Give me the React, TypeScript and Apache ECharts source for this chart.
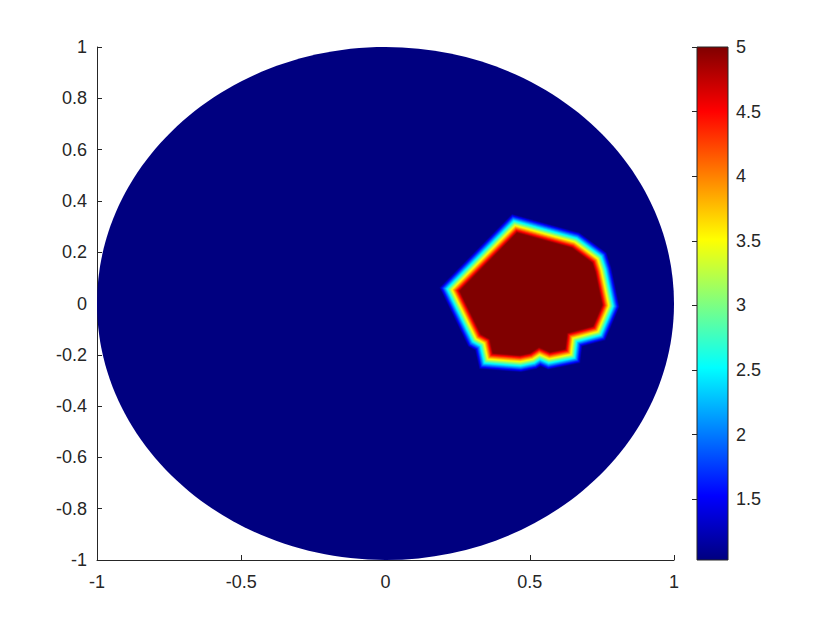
import React, { useEffect, useRef } from "react";
import * as echarts from "echarts";

// ---- data ----
const xTicks = [-1, -0.5, 0, 0.5, 1];
const yTicks = [-1, -0.8, -0.6, -0.4, -0.2, 0, 0.2, 0.4, 0.6, 0.8, 1];
const colorbarTicks = [1.5, 2, 2.5, 3, 3.5, 4, 4.5, 5];

// unit disk domain (background conductivity)
const diskCenter = [0, 0];
const diskRadius = 1;
const backgroundValue = 1.03;

// inclusion (value 5) outline, data coordinates
const inclusionX = [0.456, 0.581, 0.646, 0.716, 0.726, 0.75, 0.719, 0.629, 0.622, 0.57, 0.532, 0.501, 0.466, 0.373, 0.362, 0.331, 0.258];
const inclusionY = [0.275, 0.236, 0.216, 0.158, 0.123, -0.006, -0.088, -0.115, -0.177, -0.189, -0.17, -0.193, -0.201, -0.193, -0.138, -0.119, 0.049];
const inclusionValue = 5;

const vMin = backgroundValue;
const vMax = inclusionValue;

// MATLAB "jet" colormap control points
const JET: [number, number[]][] = [
  [0, [0, 0, 0.5]],
  [0.125, [0, 0, 1]],
  [0.375, [0, 1, 1]],
  [0.625, [1, 1, 0]],
  [0.875, [1, 0, 0]],
  [1, [0.5, 0, 0]],
];
function jet(t: number): string {
  t = Math.max(0, Math.min(1, t));
  for (let i = 1; i < JET.length; i++) {
    const [t1, c1] = JET[i];
    const [t0, c0] = JET[i - 1];
    if (t <= t1) {
      const f = (t - t0) / (t1 - t0);
      const c = c0.map((v, j) => Math.round(255 * (v + (c1[j] - v) * f)));
      return `rgb(${c[0]},${c[1]},${c[2]})`;
    }
  }
  return "rgb(128,0,0)";
}
const norm = (v: number) => (v - vMin) / (vMax - vMin);

const TEXT = "#262626";
const FONT = "'Liberation Sans', Arial, Helvetica, sans-serif";
const FONT_SIZE = 18;
const BAND_PX = 17;

export default function App() {
  const ref = useRef<HTMLDivElement>(null);
  useEffect(() => {
    if (!ref.current) return;
    const chart = echarts.init(ref.current, undefined, { renderer: "svg" });
    const fmt = (v: number) => String(Math.round(v * 10) / 10);
    chart.setOption({
      animation: false,
      backgroundColor: "#ffffff",
      grid: [
        { left: 97, top: 47, width: 577, height: 513 },
        { left: 697, top: 47, width: 31, height: 513 },
      ],
      xAxis: [
        {
          gridIndex: 0,
          type: "value",
          min: xTicks[0],
          max: xTicks[xTicks.length - 1],
          interval: 0.5,
          axisLine: { show: true, onZero: false, lineStyle: { color: TEXT, width: 1 } },
          axisTick: { show: true, inside: true, length: 5, lineStyle: { color: TEXT } },
          splitLine: { show: false },
          axisLabel: { color: TEXT, fontSize: FONT_SIZE, fontFamily: FONT, margin: 13, formatter: fmt },
        },
        { gridIndex: 1, type: "value", min: 0, max: 1, show: false },
      ],
      yAxis: [
        {
          gridIndex: 0,
          type: "value",
          min: yTicks[0],
          max: yTicks[yTicks.length - 1],
          interval: 0.2,
          axisLine: { show: true, onZero: false, lineStyle: { color: TEXT, width: 1 } },
          axisTick: { show: true, inside: true, length: 5, lineStyle: { color: TEXT } },
          splitLine: { show: false },
          axisLabel: { color: TEXT, fontSize: FONT_SIZE, fontFamily: FONT, margin: 10, formatter: fmt },
        },
        {
          gridIndex: 1,
          type: "value",
          position: "right",
          min: vMin,
          max: vMax,
          axisLine: { show: false },
          splitLine: { show: false },
          axisTick: {
            show: true,
            inside: true,
            length: 5,
            lineStyle: { color: TEXT },
            customValues: colorbarTicks,
          },
          axisLabel: {
            color: TEXT,
            fontSize: FONT_SIZE,
            fontFamily: FONT,
            margin: 8,
            customValues: colorbarTicks,
            formatter: fmt,
          },
        },
      ],
      series: [
        {
          type: "custom",
          xAxisIndex: 0,
          yAxisIndex: 0,
          data: [[diskCenter[0], diskCenter[1], diskRadius]],
          encode: { x: 0, y: 1 },
          clip: false,
          renderItem: (params: any, api: any) => {
            const cx = api.value(0);
            const cy = api.value(1);
            const r = api.value(2);
            const c = api.coord([cx, cy]);
            const px = api.coord([cx + r, cy]);
            const py = api.coord([cx, cy + r]);
            return {
              type: "ellipse",
              shape: { cx: c[0], cy: c[1], rx: px[0] - c[0], ry: c[1] - py[1] },
              style: { fill: jet(norm(backgroundValue)), stroke: null },
            };
          },
        },
        {
          type: "custom",
          xAxisIndex: 0,
          yAxisIndex: 0,
          data: [[inclusionX[0], inclusionY[0], inclusionValue]],
          encode: { x: 0, y: 1 },
          clip: false,
          renderItem: (params: any, api: any) => {
            const pts = inclusionX.map((x, i) => api.coord([x, inclusionY[i]]));
            const val = api.value(2);
            const children: any[] = [];
            const N = 48;
            for (let k = 0; k < N; k++) {
              const v = vMin + ((val - vMin) * (k + 0.5)) / N;
              const d = (BAND_PX * (val - v)) / (val - vMin);
              children.push({
                type: "polygon",
                shape: { points: pts },
                style: {
                  fill: "none",
                  stroke: jet(norm(v)),
                  lineWidth: 2 * d + 0.6,
                  lineJoin: "miter",
                  miterLimit: 3,
                },
              });
            }
            children.push({
              type: "polygon",
              shape: { points: pts },
              style: { fill: jet(norm(val)), stroke: null },
            });
            return { type: "group", children };
          },
        },
        {
          type: "custom",
          xAxisIndex: 1,
          yAxisIndex: 1,
          data: [[0, vMin, vMax]],
          encode: { x: 0, y: 1 },
          clip: false,
          renderItem: (params: any, api: any) => {
            const lo = api.value(1);
            const hi = api.value(2);
            const p0 = api.coord([0, hi]);
            const p1 = api.coord([1, lo]);
            const stops = JET.map(([t]) => ({ offset: 1 - t, color: jet(t) })).reverse();
            return {
              type: "rect",
              shape: { x: p0[0], y: p0[1], width: p1[0] - p0[0], height: p1[1] - p0[1] },
              style: {
                fill: new echarts.graphic.LinearGradient(0, 0, 0, 1, stops),
                stroke: TEXT,
                lineWidth: 1,
              },
            };
          },
        },
      ],
    });
    return () => chart.dispose();
  }, []);
  return (
    <div
      ref={ref}
      style={{ position: "fixed", left: 0, top: 0, width: 840, height: 630, background: "#fff" }}
    />
  );
}
